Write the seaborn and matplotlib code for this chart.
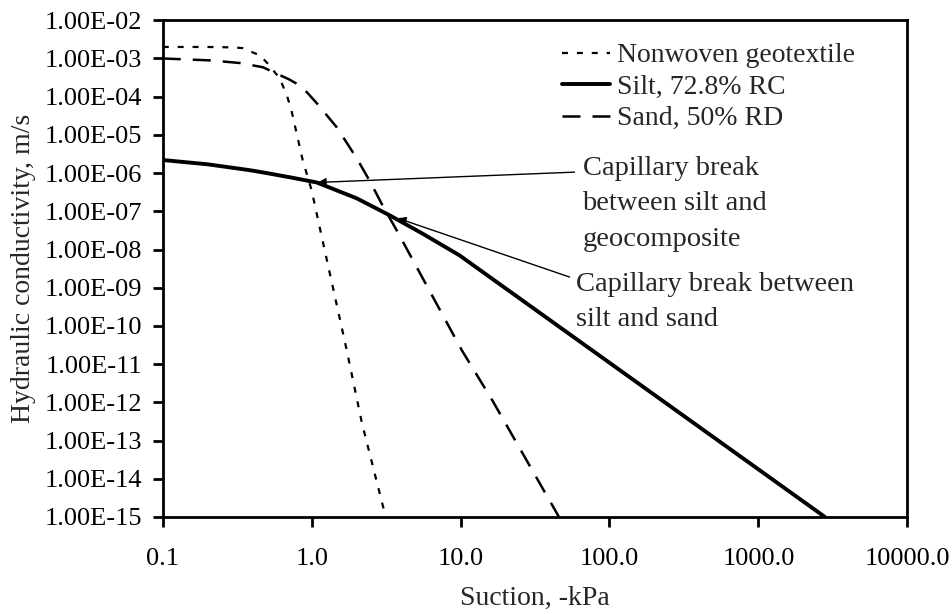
import numpy as np
import pandas as pd
import matplotlib
matplotlib.use("Agg")
import matplotlib.pyplot as plt
import seaborn as sns
from matplotlib.ticker import NullLocator

# ---- data ----
geo_suction = [0.1, 0.2, 0.3, 0.344, 0.45, 0.52, 0.61, 0.68, 0.73, 0.87, 1.0, 1.17, 1.72, 2.17, 3.14]
geo_k = [2.0e-3, 2.0e-3, 1.95e-3, 1.86e-3, 1.2e-3, 6.6e-4, 3.0e-4, 1.1e-4, 4.5e-5, 2.2e-6, 3.5e-7, 2.1e-8, 2.3e-11, 3.0e-13, 1.0e-15]

silt_suction = [0.1, 0.2, 0.38, 0.5, 0.71, 1.08, 2.0, 3.33, 5.56, 9.8, 2800.0]
silt_k = [2.2e-6, 1.7e-6, 1.2e-6, 1.0e-6, 7.8e-7, 5.7e-7, 2.2e-7, 7.9e-8, 2.6e-8, 7.1e-9, 1.0e-15]

sand_suction = [0.1, 0.21, 0.33, 0.47, 0.71, 0.79, 0.93, 1.08, 1.47, 2.0, 2.45, 3.0, 3.72, 10.2, 16.4, 45.8]
sand_k = [1.0e-3, 8.9e-4, 7.6e-4, 5.9e-4, 2.8e-4, 2.2e-4, 1.3e-4, 6.8e-5, 1.6e-5, 2.5e-6, 6.3e-7, 1.4e-7, 3.2e-8, 2.3e-11, 1.1e-12, 1.0e-15]

series_names = ["Nonwoven geotextile", "Silt, 72.8% RC", "Sand, 50% RD"]
x_ticks = [0.1, 1.0, 10.0, 100.0, 1000.0, 10000.0]
x_tick_labels = ["0.1", "1.0", "10.0", "100.0", "1000.0", "10000.0"]
y_ticks = [10.0 ** e for e in range(-15, -1)]
y_tick_labels = ["1.00E-%02d" % -e for e in range(-15, -1)]

df = pd.concat([
    pd.DataFrame({"suction": geo_suction, "k": geo_k, "series": series_names[0]}),
    pd.DataFrame({"suction": silt_suction, "k": silt_k, "series": series_names[1]}),
    pd.DataFrame({"suction": sand_suction, "k": sand_k, "series": series_names[2]}),
], ignore_index=True)

sns.set_theme(style="white")
plt.rcParams["font.family"] = ["Liberation Serif", "DejaVu Serif"]

TICK_FS = 19
LABEL_FS = 20
NOTE_FS = 20.5

fig = plt.figure(figsize=(9.52, 6.14), dpi=100)
ax = fig.add_axes([0.171, 0.158, 0.782, 0.809])

styles = {
    series_names[0]: dict(linestyle=(0, (2.7, 4.0)), linewidth=1.6),
    series_names[1]: dict(linestyle="-", linewidth=2.8),
    series_names[2]: dict(linestyle=(0, (7.2, 4.8)), linewidth=1.8),
}
for name in series_names:
    sub = df[df["series"] == name]
    sns.lineplot(data=sub, x="suction", y="k", ax=ax, color="black",
                 label=name, sort=False, estimator=None, **styles[name])

ax.set_xscale("log")
ax.set_yscale("log")
ax.set_xlim(0.1, 10000)
ax.set_ylim(1e-15, 1e-2)

ax.set_xticks(x_ticks)
ax.set_xticklabels(x_tick_labels)
ax.set_yticks(y_ticks)
ax.set_yticklabels(y_tick_labels)
ax.xaxis.set_minor_locator(NullLocator())
ax.yaxis.set_minor_locator(NullLocator())

ax.tick_params(axis="both", which="major", direction="out", length=7, width=2,
               labelsize=TICK_FS, colors="black", bottom=True, left=True, top=False, right=False)
ax.tick_params(axis="x", pad=15)
ax.tick_params(axis="y", pad=8)
for s in ax.spines.values():
    s.set_color("black")
    s.set_linewidth(2)

ax.set_xlabel("Suction, -kPa", fontsize=LABEL_FS, labelpad=12)
ax.set_ylabel("Hydraulic conductivity, m/s", fontsize=LABEL_FS, labelpad=6)

leg = ax.legend(loc="upper left", bbox_to_anchor=(0.5215, 0.977), frameon=False,
                fontsize=LABEL_FS, handlelength=1.73, handletextpad=0.25, labelspacing=0.22,
                borderaxespad=0.0)

# annotations
ax.annotate("", xy=(1.10, 5.7e-7), xytext=(58.2, 1.06e-6),
            arrowprops=dict(arrowstyle="-|>", color="black", lw=1.0,
                            mutation_scale=12, shrinkA=0, shrinkB=0))
ax.annotate("", xy=(3.78, 6.6e-8), xytext=(54.0, 1.9e-9),
            arrowprops=dict(arrowstyle="-|>", color="black", lw=1.0,
                            mutation_scale=12, shrinkA=0, shrinkB=0))
ax.text(65.9, 10 ** -6.8, "Capillary break\nbetween silt and\ngeocomposite",
        fontsize=NOTE_FS, ha="left", va="center", linespacing=1.56)
ax.text(59.2, 10 ** -9.37, "Capillary break between\nsilt and sand",
        fontsize=NOTE_FS, ha="left", va="center", linespacing=1.56)

fig.savefig("out.png", dpi=100, facecolor="white")
